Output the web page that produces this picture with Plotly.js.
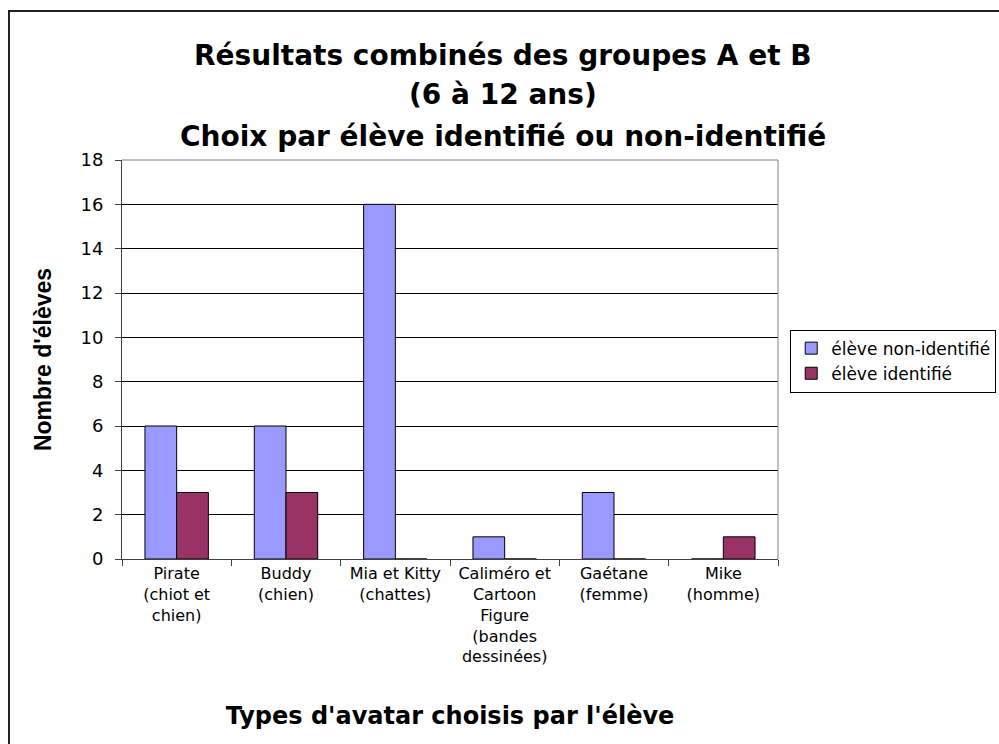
<!DOCTYPE html>
<html><head><meta charset="utf-8">
<script src="https://cdn.plot.ly/plotly-3.0.1.min.js"></script>
<style>
html,body{margin:0;padding:0;background:#fff;overflow:hidden;}
#chart{width:999px;height:744px;position:absolute;left:0;top:0;}
#frame{position:absolute;left:8px;top:10px;width:1200px;height:1000px;border:2px solid #222;pointer-events:none;}
</style>
</head><body>
<div id="chart"></div>
<div id="frame"></div>
<script>
const categories = [
  "Pirate<br>(chiot et<br>chien)",
  "Buddy<br>(chien)",
  "Mia et Kitty<br>(chattes)",
  "Caliméro et<br>Cartoon<br>Figure<br>(bandes<br>dessinées)",
  "Gaétane<br>(femme)",
  "Mike<br>(homme)"
];
const nonIdentifie = [6, 6, 16, 1, 3, 0];
const identifie = [3, 3, 0, 0, 0, 1];
const seriesNames = ["élève non-identifié", "élève identifié"];
const titleLines = [
  "Résultats combinés des groupes A et B",
  "(6 à 12 ans)",
  "Choix par élève identifié ou non-identifié"
];
const yTicks = [0, 2, 4, 6, 8, 10, 12, 14, 16, 18];

const FONT = "Liberation Sans, Arial, sans-serif";
const WIDE = "DejaVu Sans, Verdana, sans-serif";

const traces = [
  {type:"bar", name:seriesNames[0], x:categories, y:nonIdentifie,
   marker:{color:"#9999FF", line:{color:"#000", width:1}}},
  {type:"bar", name:seriesNames[1], x:categories, y:identifie,
   marker:{color:"#993366", line:{color:"#000", width:1}}}
];

const titleY = [1.263, 1.163, 1.060];
const annotations = titleLines.map((t,i)=>({
  text:t, xref:"paper", yref:"paper", x:0.581, y:titleY[i],
  xanchor:"center", yanchor:"middle", showarrow:false,
  font:{family:WIDE, size:28, color:"#000", weight:"bold"}
}));

const layout = {
  width:999, height:744,
  margin:{l:122, r:221, t:160, b:185},
  paper_bgcolor:"#fff", plot_bgcolor:"#fff",
  font:{family:FONT, color:"#000"},
  barmode:"group", bargap:0.42, bargroupgap:0,
  showlegend:true,
  legend:{xref:"container", yref:"container", x:0.791, y:0.557,
    xanchor:"left", yanchor:"top",
    bordercolor:"#000", borderwidth:1, bgcolor:"#fff",
    font:{family:WIDE, size:17, color:"#000"}, tracegroupgap:0,
    itemwidth:30},
  xaxis:{
    type:"category", tickson:"boundaries", ticks:"outside", ticklen:6,
    tickcolor:"#404040", showline:true, linecolor:"#404040", linewidth:1,
    mirror:false, showgrid:false,
    tickfont:{family:WIDE, size:16, color:"#000"},
    title:{text:"Types d'avatar choisis par l'élève",
      font:{family:WIDE, size:24, color:"#000", weight:"bold"}, standoff:41},
    automargin:false
  },
  yaxis:{
    range:[0,18], tickvals:yTicks, ticks:"outside", ticklen:6,
    tickcolor:"#404040", showline:true, linecolor:"#404040", linewidth:1,
    mirror:false, showgrid:true, gridcolor:"#000", gridwidth:1,
    zeroline:false, ticklabelstandoff:8,
    tickfont:{family:WIDE, size:18, color:"#000"},
    title:{text:"Nombre d'élèves",
      font:{family:FONT, size:23, color:"#000", weight:"bold"}, standoff:22},
    automargin:false
  },
  shapes:[
    {type:"line", xref:"paper", yref:"paper", x0:0, x1:1, y0:1, y1:1, line:{color:"#808080", width:1}},
    {type:"line", xref:"paper", yref:"paper", x0:1, x1:1, y0:0, y1:1, line:{color:"#808080", width:1}}
  ],
  annotations:annotations
};

Plotly.newPlot("chart", traces, layout, {displayModeBar:false, staticPlot:true});
</script>
</body></html>
